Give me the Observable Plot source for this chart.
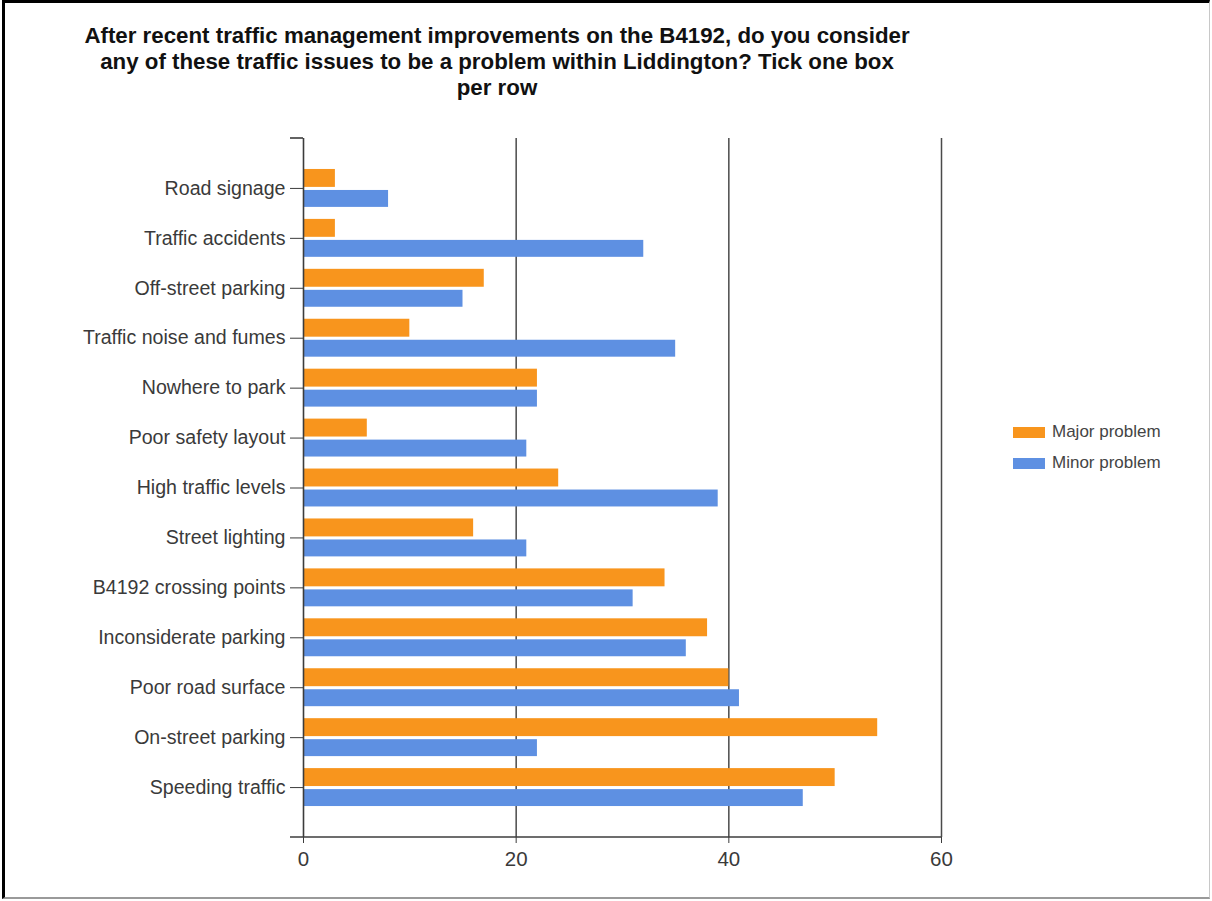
<!DOCTYPE html>
<html>
<head>
<meta charset="utf-8">
<script src="https://cdn.jsdelivr.net/npm/d3@7"></script>
<script src="https://cdn.jsdelivr.net/npm/@observablehq/plot@0.6"></script>
<style>
  html, body { margin: 0; padding: 0; background: #fff; }
  #page { position: relative; width: 1212px; height: 901px; overflow: hidden; font-family: "Liberation Sans", Arial, sans-serif; }
  #frame { position: absolute; left: 2px; top: 0; width: 1208px; height: 899px; box-sizing: border-box;
           border-top: 3px solid #000; border-left: 3px solid #000; border-right: 1px solid #c8c8c8; border-bottom: 2px solid #9a9a9a; pointer-events: none; }
  #chart { position: absolute; left: 0; top: 0; }
  #title { position: absolute; left: 47px; width: 900px; top: 23px; text-align: center; font-weight: bold; font-size: 22.3px; line-height: 26px; color: #111; }
  .legend { position: absolute; left: 1013px; font-size: 17px; color: #444; display: flex; align-items: center; }
  .legend .sw { width: 32px; height: 11px; margin-right: 7px; }
</style>
</head>
<body>
<div id="page">
  <div id="chart"></div>
  <div id="title"></div>
  <div id="legend"></div>
  <div id="frame"></div>
</div>
<script>
// Survey answers: number of respondents per issue
const categories = [
  "Road signage", "Traffic accidents", "Off-street parking", "Traffic noise and fumes",
  "Nowhere to park", "Poor safety layout", "High traffic levels", "Street lighting",
  "B4192 crossing points", "Inconsiderate parking", "Poor road surface",
  "On-street parking", "Speeding traffic"
];
const majorProblem = [3, 3, 17, 10, 22, 6, 24, 16, 34, 38, 40, 54, 50];
const minorProblem = [8, 32, 15, 35, 22, 21, 39, 21, 31, 36, 41, 22, 47];
const seriesNames = ["Major problem", "Minor problem"];
const seriesColors = ["#f8951d", "#5e90e2"];
const xTicks = [0, 20, 40, 60];
const titleLines = [
  "After recent traffic management improvements on the B4192, do you consider",
  "any of these traffic issues to be a problem within Liddington? Tick one box",
  "per row"
];

const majorRows = categories.map((c, i) => ({issue: c, value: majorProblem[i]}));
const minorRows = categories.map((c, i) => ({issue: c, value: minorProblem[i]}));

// Axis lines: baseline across the bottom plus the stub at the top of the category axis
function axisLines(index, scales, values, dim) {
  const g = d3.create("svg:g");
  const x0 = scales.x(0), x1 = scales.x(xTicks[xTicks.length - 1]);
  const top = dim.marginTop, bottom = dim.height - dim.marginBottom;
  g.append("line").attr("x1", x0 - 13).attr("x2", x1).attr("y1", bottom).attr("y2", bottom)
    .attr("stroke", "#3c3c3c").attr("stroke-width", 1.6);
  g.append("line").attr("x1", x0 - 13).attr("x2", x0).attr("y1", top).attr("y2", top)
    .attr("stroke", "#3c3c3c").attr("stroke-width", 1.6);
  return g.node();
}

const chart = Plot.plot({
  width: 1212,
  height: 901,
  marginTop: 138,
  marginBottom: 64,
  marginLeft: 303,
  marginRight: 271,
  style: {fontFamily: "'Liberation Sans', Arial, sans-serif", fontSize: "19.6px", color: "#3a3a3a", background: "transparent"},
  x: {domain: [0, 60], ticks: xTicks},
  y: {domain: categories, paddingInner: 0, paddingOuter: 0.5, round: false},
  marks: [
    Plot.ruleX(xTicks.slice(1), {stroke: "#4a4a4a", strokeWidth: 1.5}),
    Plot.barX(majorRows, {x: "value", y: "issue", fill: seriesColors[0], insetTop: 6, insetBottom: 26}),
    Plot.barX(minorRows, {x: "value", y: "issue", fill: seriesColors[1], insetTop: 27, insetBottom: 6}),
    Plot.ruleX([0], {stroke: "#3c3c3c", strokeWidth: 1.6}),
    axisLines,
    Plot.axisX({ticks: xTicks, tickSize: 6, tickPadding: 8, fontSize: 20.5, label: null, stroke: "#3c3c3c", fill: "#3a3a3a", tickFormat: d => String(d)}),
    Plot.axisY({tickSize: 13, tickPadding: 5, label: null, stroke: "#3c3c3c", fill: "#3a3a3a"})
  ]
});
document.getElementById("chart").appendChild(chart);

document.getElementById("title").innerHTML = titleLines.join("<br>");

const legend = document.getElementById("legend");
seriesNames.forEach((name, i) => {
  const row = document.createElement("div");
  row.className = "legend";
  row.style.top = (422 + i * 31) + "px";
  row.innerHTML = `<div class="sw" style="background:${seriesColors[i]}"></div><span>${name}</span>`;
  legend.appendChild(row);
});
</script>
</body>
</html>
